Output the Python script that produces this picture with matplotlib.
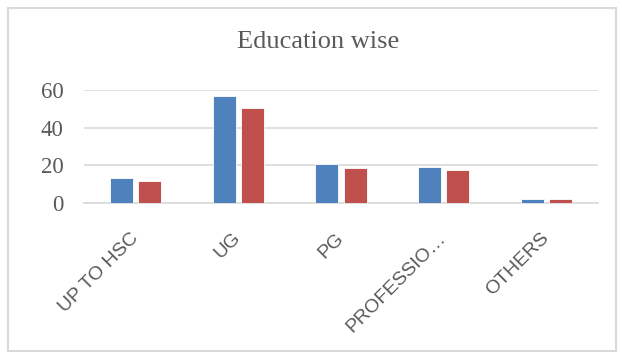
import matplotlib.pyplot as plt
import matplotlib.transforms as mtransforms
import numpy as np
from matplotlib.patches import Rectangle

categories = ["UP TO HSC", "UG", "PG", "PROFESSIO…", "OTHERS"]
series_a = [13.1, 56.8, 20.5, 19.3, 2.3]
series_b = [11.8, 50.6, 18.4, 17.3, 2.3]
yticks = [0, 20, 40, 60]

fig = plt.figure(figsize=(6.22, 3.52), dpi=100)
fig.patches.append(Rectangle((8/622, 1/352), 608/622, 343/352, transform=fig.transFigure,
                             fill=False, edgecolor="#d9d9d9", linewidth=1.5))

ax = fig.add_axes([84.3/622, 1-203/352, 513.4/622, 113/352])
x = np.arange(len(categories))
w = 0.224
ax.bar(x - 0.137, series_a, w, color="#4F81BD", edgecolor="#ffffff", linewidth=0.6, zorder=3)
ax.bar(x + 0.137, series_b, w, color="#C0504D", edgecolor="#ffffff", linewidth=0.6, zorder=3)

ax.set_xlim(-0.5, len(categories) - 0.5)
ax.set_ylim(0, 60)
ax.set_yticks(yticks)
ax.grid(axis="y", color="#d9d9d9", linewidth=1.2, zorder=0)
for s in ["top", "right", "left"]:
    ax.spines[s].set_visible(False)
ax.spines["bottom"].set_color("#d9d9d9")
ax.spines["bottom"].set_linewidth(1.2)

ax.set_xticks(x)
ax.set_xticklabels(categories, rotation=45, ha="right", va="top",
                   fontsize=14, color="#595959", family="Liberation Sans")
ax.tick_params(axis="x", length=0, pad=19)
shift = mtransforms.ScaledTranslation(6/100, 0, fig.dpi_scale_trans)
for t in ax.get_xticklabels():
    t.set_transform(t.get_transform() + shift)
ax.tick_params(axis="y", length=0, pad=15, labelsize=16.5, labelcolor="#595959")
for t in ax.get_yticklabels():
    t.set_family("Liberation Serif")

fig.text(318/622, 1-42/352, "Education wise", ha="center", va="center",
         fontsize=19, color="#595959", family="Liberation Serif")

fig.savefig("out.png", dpi=100)
